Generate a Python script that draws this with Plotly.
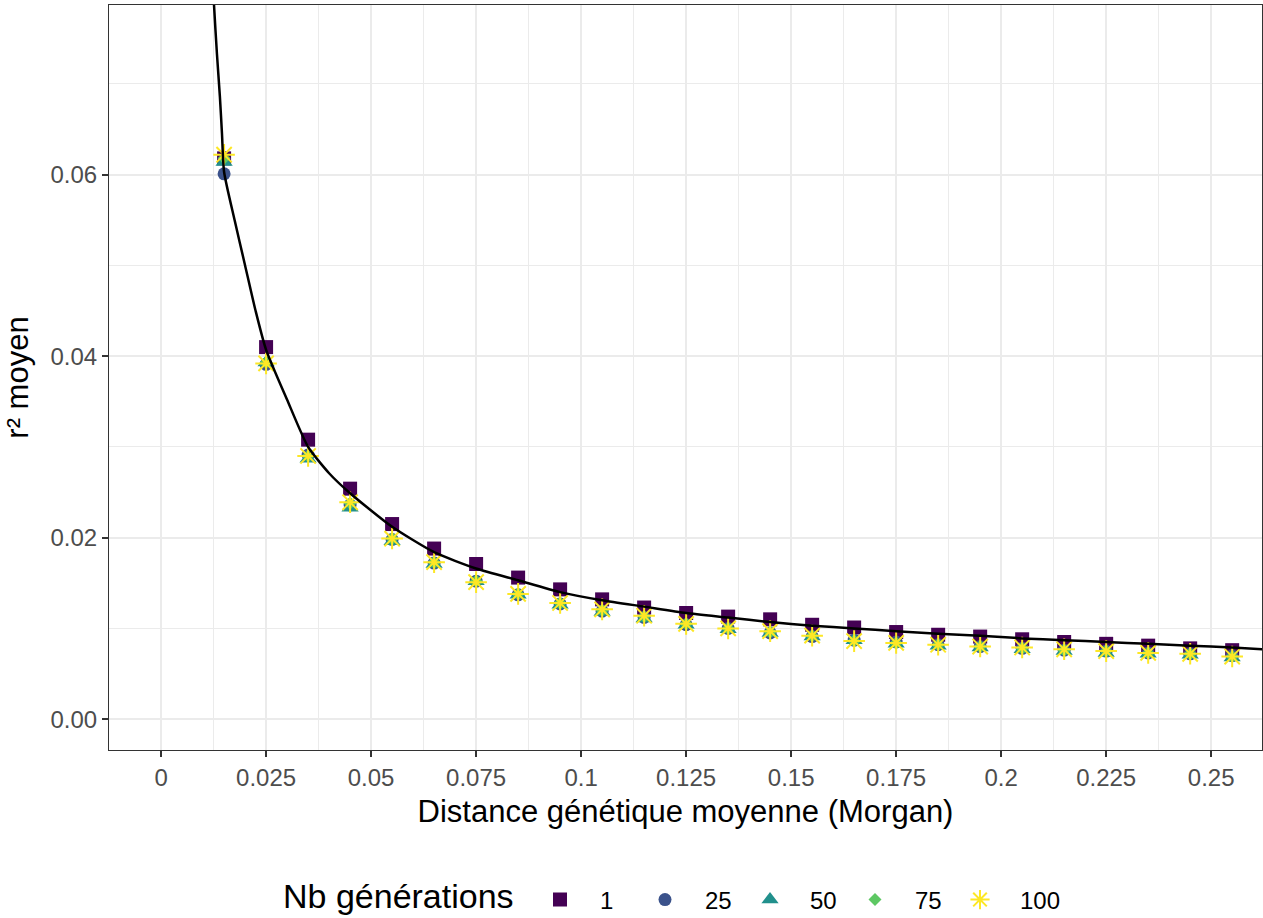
import plotly.graph_objects as go

# ---------------- data ----------------
distance = [0.015, 0.025, 0.035, 0.045, 0.055, 0.065, 0.075, 0.085, 0.095, 0.105,
            0.115, 0.125, 0.135, 0.145, 0.155, 0.165, 0.175, 0.185, 0.195, 0.205,
            0.215, 0.225, 0.235, 0.245, 0.255]

gen_1 = [0.0618, 0.0410, 0.0308, 0.0254, 0.0215, 0.0188, 0.0171, 0.0156, 0.0143, 0.0132,
         0.0123, 0.0117, 0.0113, 0.0110, 0.0104, 0.0101, 0.0096, 0.0093, 0.0091, 0.0088,
         0.0085, 0.0083, 0.0081, 0.0078, 0.0076]
gen_25 = [0.0601, 0.0391, 0.0291, 0.0236, 0.0198, 0.0172, 0.0152, 0.0137, 0.0127, 0.0119,
          0.0112, 0.0104, 0.0100, 0.0095, 0.0091, 0.0087, 0.0085, 0.0082, 0.0080, 0.0078,
          0.0076, 0.0075, 0.0073, 0.0072, 0.0070]
gen_50 = [0.0614, 0.0393, 0.0287, 0.0233, 0.0196, 0.0171, 0.0152, 0.0137, 0.0126, 0.0118,
          0.0111, 0.0104, 0.0099, 0.0095, 0.0091, 0.0087, 0.0083, 0.0081, 0.0079, 0.0077,
          0.0075, 0.0073, 0.0072, 0.0071, 0.0068]
gen_75 = [0.0618, 0.0393, 0.0290, 0.0238, 0.0199, 0.0173, 0.0152, 0.0138, 0.0128, 0.0120,
          0.0113, 0.0105, 0.0100, 0.0096, 0.0092, 0.0086, 0.0084, 0.0082, 0.0080, 0.0078,
          0.0076, 0.0075, 0.0073, 0.0072, 0.0069]
gen_100 = [0.0622, 0.0392, 0.0290, 0.0239, 0.0199, 0.0173, 0.0151, 0.0138, 0.0128, 0.0121,
           0.0114, 0.0105, 0.0100, 0.0097, 0.0092, 0.0086, 0.0084, 0.0082, 0.0080, 0.0079,
           0.0077, 0.0075, 0.0073, 0.0072, 0.0069]

series_names = ["1", "25", "50", "75", "100"]
legend_title = "Nb générations"

# theoretical curve
curve_x = [0.0122, 0.0126, 0.0133, 0.0140, 0.0145, 0.0150, 0.0175, 0.0200, 0.0225, 0.0250,
           0.0300, 0.0350, 0.0400, 0.0450, 0.0550, 0.0650, 0.0750, 0.0850, 0.0950, 0.1050,
           0.1150, 0.1250, 0.1350, 0.1450, 0.1550, 0.1650, 0.1750, 0.1850, 0.1950, 0.2050,
           0.2150, 0.2250, 0.2350, 0.2450, 0.2550, 0.2625]
curve_y = [0.0830, 0.0787, 0.0733, 0.0686, 0.0645, 0.0603, 0.0550, 0.0500, 0.0450, 0.0407,
           0.0352, 0.0300, 0.0271, 0.0249, 0.0212, 0.0184, 0.0166, 0.0153, 0.0140, 0.0131,
           0.0124, 0.0117, 0.0112, 0.0107, 0.0103, 0.0100, 0.0097, 0.0094, 0.0092, 0.0089,
           0.0087, 0.0085, 0.0083, 0.0081, 0.0079, 0.0077]

x_tickvals = [0, 0.025, 0.05, 0.075, 0.1, 0.125, 0.15, 0.175, 0.2, 0.225, 0.25]
x_ticktext = ["0", "0.025", "0.05", "0.075", "0.1", "0.125", "0.15", "0.175", "0.2", "0.225", "0.25"]
y_tickvals = [0, 0.02, 0.04, 0.06]
y_ticktext = ["0.00", "0.02", "0.04", "0.06"]

# ---------------- styling ----------------
FONT = "Liberation Sans, Arial, sans-serif"
colors = ["#440154", "#3B528B", "#21908C", "#5DC863", "#FDE725"]
symbols = ["square", "circle", "triangle-up", "diamond", "asterisk-open"]
sizes = [14, 13, 15, 10, 18]

fig = go.Figure()
all_series = [gen_1, gen_25, gen_50, gen_75, gen_100]
for name, vals, col, sym, sz in zip(series_names, all_series, colors, symbols, sizes):
    if sym == "asterisk-open":
        marker = dict(symbol=sym, size=sz, color=col, line=dict(color=col, width=2))
    else:
        marker = dict(symbol=sym, size=sz, color=col, line=dict(width=0))
    fig.add_trace(go.Scatter(x=distance, y=vals, mode="markers", name=name, marker=marker))

# invisible spacer entry so the last legend label is not clipped
fig.add_trace(go.Scatter(x=[None], y=[None], mode="markers", name=" ",
                         marker=dict(color="rgba(0,0,0,0)", size=0, line=dict(width=0)),
                         hoverinfo="skip"))

fig.add_trace(go.Scatter(x=curve_x, y=curve_y, mode="lines", showlegend=False,
                         line=dict(color="black", width=2.5, shape="spline", smoothing=0.6),
                         hoverinfo="skip"))

grid = "#EBEBEB"
fig.update_xaxes(
    range=[-0.0124, 0.2621], tickvals=x_tickvals, ticktext=x_ticktext,
    showgrid=True, gridcolor=grid, gridwidth=2,
    minor=dict(dtick=0.0125, tick0=0, showgrid=True, gridcolor=grid, gridwidth=1, ticks=""),
    zeroline=False, showline=True, linecolor="#333333", linewidth=1, mirror=True,
    ticks="outside", ticklen=6, tickcolor="#333333", tickwidth=1.5,
    tickfont=dict(family=FONT, size=24, color="#4D4D4D"),
    title=dict(text="Distance génétique moyenne (Morgan)", font=dict(family=FONT, size=31, color="black"),
               standoff=10),
    automargin=False,
)
fig.update_yaxes(
    range=[-0.0034, 0.0787], tickvals=y_tickvals, ticktext=y_ticktext,
    showgrid=True, gridcolor=grid, gridwidth=2,
    minor=dict(dtick=0.01, tick0=0, showgrid=True, gridcolor=grid, gridwidth=1, ticks=""),
    zeroline=False, showline=True, linecolor="#333333", linewidth=1, mirror=True,
    ticks="outside", ticklen=6, tickcolor="#333333", tickwidth=1.5,
    tickfont=dict(family=FONT, size=24, color="#4D4D4D"),
    title=dict(text="r² moyen", font=dict(family=FONT, size=31, color="black"), standoff=14),
    automargin=False,
)

fig.add_annotation(
    text=legend_title, xref="paper", yref="paper", x=(282 - 109) / 1153, y=(750 - 896) / 745,
    xanchor="left", yanchor="middle", showarrow=False, borderpad=0,
    font=dict(family=FONT, size=34, color="black"),
)

fig.update_layout(
    width=1263, height=918,
    margin=dict(l=109, r=1, t=5, b=168),
    paper_bgcolor="white", plot_bgcolor="white",
    font=dict(family=FONT, color="black"),
    legend=dict(
        orientation="h", xref="container", yref="container",
        x=(523 - 3) / 1263, xanchor="left", y=0.0196, yanchor="middle",
        font=dict(family=FONT, size=24, color="black"),
        itemwidth=70, entrywidth=20, bgcolor="rgba(0,0,0,0)",
    ),
    showlegend=True,
)

fig.write_html("out.html")
